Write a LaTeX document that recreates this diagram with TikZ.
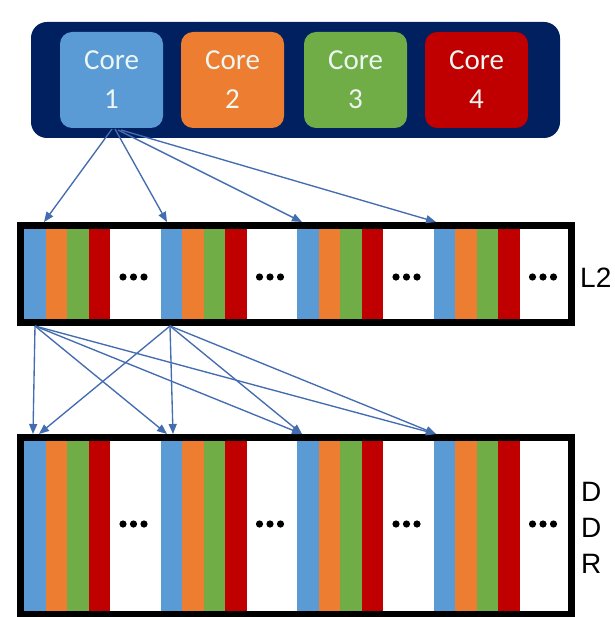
\documentclass[tikz,border=0pt]{standalone}
\usepackage{fontspec}
\setmainfont{Liberation Sans}
\newfontfamily\corefont{Carlito}
\usetikzlibrary{arrows.meta}
\definecolor{navy}{RGB}{0,32,96}
\definecolor{cblue}{RGB}{91,155,213}
\definecolor{corange}{RGB}{237,125,49}
\definecolor{cgreen}{RGB}{112,173,71}
\definecolor{cred}{RGB}{192,0,0}
\definecolor{arr}{RGB}{68,108,176}
\definecolor{coretext}{RGB}{236,246,242}
\tikzset{
  corebox/.style={fill=#1, rounded corners=12pt, minimum width=103pt, minimum height=96pt,
    anchor=north west, inner sep=0pt, outer sep=0pt, text=coretext, align=center,
    font=\corefont\fontsize{29}{39}\selectfont},
  membox/.style={draw=black, line width=7pt, anchor=north west, inner sep=0pt, outer sep=0pt},
  conn/.style={draw=arr, line width=1.35pt, -{Triangle[length=10pt,width=8pt]}},
  lab/.style={anchor=west, inner sep=0pt, align=left, font=\fontsize{28}{36}\selectfont}
}
\begin{document}
\begin{tikzpicture}[x=1pt,y=-1pt]
\useasboundingbox (0,0) rectangle (614,617);
\fill[white] (0,0) rectangle (614,617);

% CPU
\node[fill=navy, rounded corners=16pt, minimum width=529pt, minimum height=116pt,
  anchor=north west, inner sep=0pt, outer sep=0pt] (cpu) at (31,22) {};
\node[corebox=cblue] (c1) at (60,32) {Core\\1};
\node[corebox=corange] (c2) at (181,32) {Core\\2};
\node[corebox=cgreen] (c3) at (304,32) {Core\\3};
\node[corebox=cred] (c4) at (425,32) {Core\\4};

% stripes
\foreach \k in {0,1,2,3}{
  \pgfmathsetmacro\xo{24+136.5*\k}
  \foreach \yt/\h/\dy in {225/97/277, 437/178/524}{
    \fill[cblue]   (\xo,\yt) rectangle ++(21.5,\h);
    \fill[corange] (\xo+21.5,\yt) rectangle ++(21.5,\h);
    \fill[cgreen]  (\xo+43,\yt) rectangle ++(21.5,\h);
    \fill[cred]    (\xo+64.5,\yt) rectangle ++(21.5,\h);
    \fill[black] (\xo+99,\dy) circle (3.6pt) (\xo+109.5,\dy) circle (3.6pt) (\xo+120,\dy) circle (3.6pt);
  }
}

% memory boxes
\node[membox, minimum width=551pt, minimum height=97pt] (l2) at (20.5,225.5) {};
\node[membox, minimum width=551pt, minimum height=177pt] (ddr) at (20.5,437.5) {};
\node[lab] (l2lab) at (580,278) {L2};
\node[lab] (ddrlab) at (581,528) {D\\D\\R};

% connector points
\coordinate (s1) at (112,129);
\coordinate (s2) at (115,129);
\coordinate (s3) at (118,130);
\coordinate (s4) at (121,130);
\coordinate (t1) at (44,222);
\coordinate (t2) at (167,222);
\coordinate (t3) at (302,222);
\coordinate (t4) at (436,222);
\coordinate (a) at (35,326);
\coordinate (b) at (170,326);
\coordinate (d1) at (33,434);
\coordinate (d1b) at (39,434);
\coordinate (d2) at (167,434);
\coordinate (d2b) at (173,434);
\coordinate (d3) at (302,434);
\coordinate (d4) at (436,434);

\draw[conn] (s1) -- (t1);
\draw[conn] (s2) -- (t2);
\draw[conn] (s3) -- (t3);
\draw[conn] (s4) -- (t4);

\draw[conn] (a) -- (d1);
\draw[conn] (a) -- (d2);
\draw[conn] (a) -- (d3);
\draw[conn] (a) -- (d4);
\draw[conn] (b) -- (d1b);
\draw[conn] (b) -- (d2b);
\draw[conn] (b) -- (d3);
\draw[conn] (b) -- (d4);
\end{tikzpicture}
\end{document}
